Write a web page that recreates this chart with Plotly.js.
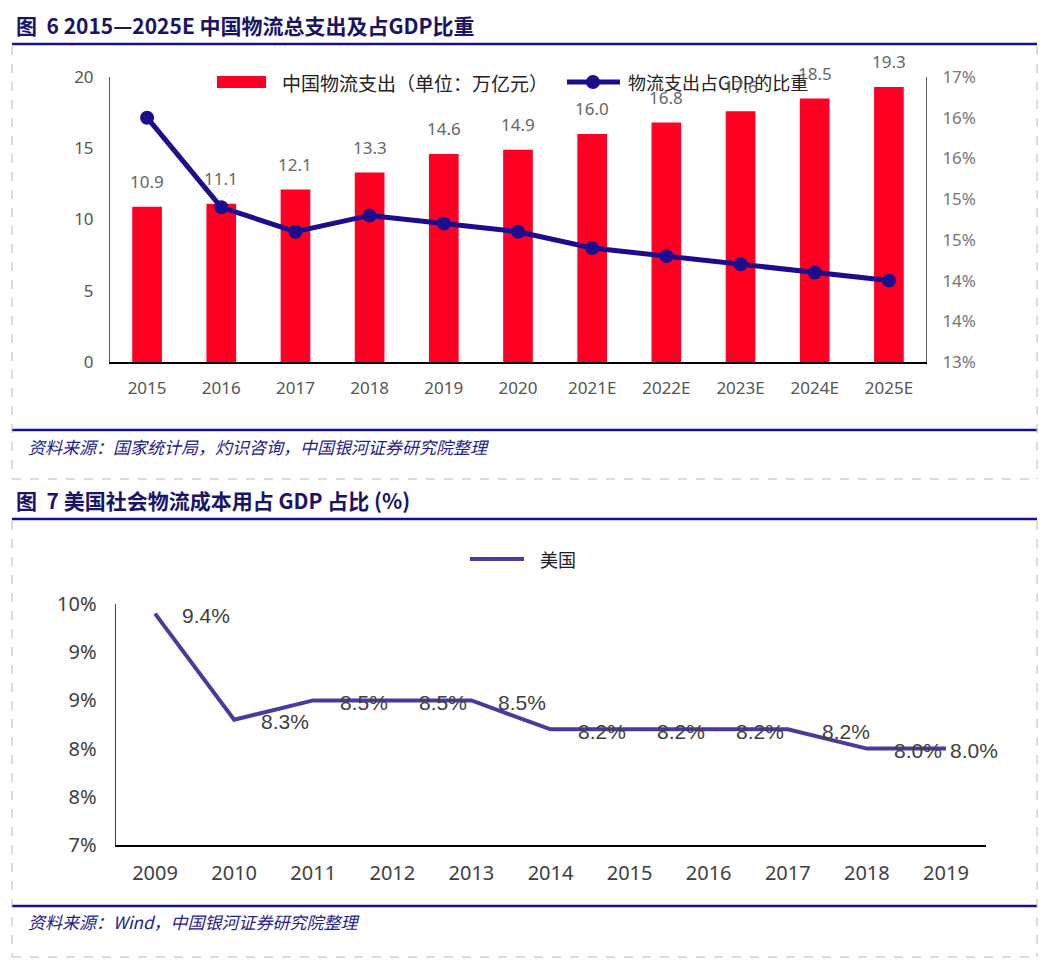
<!DOCTYPE html>
<html>
<head>
<meta charset="utf-8">
<script src="https://cdn.plot.ly/plotly-3.0.1.min.js"></script>
<style>html,body{margin:0;padding:0;background:#fff;}#chart{width:1054px;height:980px;}</style>
</head>
<body>
<div id="chart"></div>
<script>
// ---------- data ----------
const cnYears = ['2015','2016','2017','2018','2019','2020','2021E','2022E','2023E','2024E','2025E'];
const cnSpend = [10.9, 11.1, 12.1, 13.3, 14.6, 14.9, 16.0, 16.8, 17.6, 18.5, 19.3];   // 万亿元
const cnShare = [16.0, 14.9, 14.6, 14.8, 14.7, 14.6, 14.4, 14.3, 14.2, 14.1, 14.0];   // %
const cnLeftTicks = [0, 5, 10, 15, 20];
const cnRightTickVals = [13, 13.5, 14, 14.5, 15, 15.5, 16, 16.5];
const cnRightTickText = ['13%', '14%', '14%', '15%', '15%', '16%', '16%', '17%'];

const usYears = ['2009','2010','2011','2012','2013','2014','2015','2016','2017','2018','2019'];
const usShare = [9.4, 8.3, 8.5, 8.5, 8.5, 8.2, 8.2, 8.2, 8.2, 8.0, 8.0];   // %
const usTickVals = [7, 7.5, 8, 8.5, 9, 9.5];
const usTickText = ['7%', '8%', '8%', '9%', '9%', '10%'];

const title1 = '图  6 2015—2025E 中国物流总支出及占GDP比重';
const title2 = '图  7 美国社会物流成本用占 GDP 占比 (%)';
const source1 = '资料来源：国家统计局，灼识咨询，中国银河证券研究院整理';
const source2 = '资料来源：Wind，中国银河证券研究院整理';
const legendBar = '中国物流支出（单位：万亿元）';
const legendLine = '物流支出占GDP的比重';
const legendUS = '美国';

// ---------- helpers ----------
const W = 1054, H = 980;
const px = x => x / W;
const py = y => 1 - y / H;
const SANS = '"Noto Sans", "Noto Sans CJK SC", sans-serif';
const CJK = '"Noto Sans CJK SC", "Noto Sans", sans-serif';
const NAVY = '#17128a';
const TITLE_C = '#1a1466';
const RED = '#ff0024';
const LINE1 = '#1c0c8e';
const LINE2 = '#4a3aa0';

const traces = [
  {
    type: 'bar', x: cnYears, y: cnSpend, xaxis: 'x', yaxis: 'y',
    marker: {color: RED}, hoverinfo: 'skip', name: legendBar
  },
  {
    type: 'scatter', mode: 'lines+markers', x: cnYears, y: cnShare, xaxis: 'x', yaxis: 'y3',
    line: {color: LINE1, width: 5}, marker: {color: LINE1, size: 14}, hoverinfo: 'skip', name: legendLine
  },
  {
    type: 'scatter', mode: 'lines', x: usYears, y: usShare, xaxis: 'x2', yaxis: 'y2',
    line: {color: LINE2, width: 4}, hoverinfo: 'skip', name: legendUS
  }
];

const annotations = [];
// titles and sources
annotations.push({xref:'paper', yref:'paper', x:px(14), y:py(25), xanchor:'left', yanchor:'middle',
  text:'<b>'+title1+'</b>', showarrow:false, font:{family:CJK, size:21, color:TITLE_C}});
annotations.push({xref:'paper', yref:'paper', x:px(14), y:py(500), xanchor:'left', yanchor:'middle',
  text:'<b>'+title2+'</b>', showarrow:false, font:{family:CJK, size:21, color:TITLE_C}});
annotations.push({xref:'paper', yref:'paper', x:px(26), y:py(446), xanchor:'left', yanchor:'middle',
  text:'<i>'+source1+'</i>', showarrow:false, font:{family:CJK, size:17, color:'#24208c'}});
annotations.push({xref:'paper', yref:'paper', x:px(26), y:py(921), xanchor:'left', yanchor:'middle',
  text:'<i>'+source2+'</i>', showarrow:false, font:{family:CJK, size:17, color:'#24208c'}});
// legends (custom)
annotations.push({xref:'paper', yref:'paper', x:px(280), y:py(82), xanchor:'left', yanchor:'middle',
  text:legendBar, showarrow:false, font:{family:CJK, size:19, color:'#222'}});
annotations.push({xref:'paper', yref:'paper', x:px(626), y:py(82), xanchor:'left', yanchor:'middle',
  text:legendLine, showarrow:false, font:{family:CJK, size:18, color:'#222'}});
annotations.push({xref:'paper', yref:'paper', x:px(538), y:py(559), xanchor:'left', yanchor:'middle',
  text:legendUS, showarrow:false, font:{family:CJK, size:18, color:'#222'}});
// bar value labels
cnSpend.forEach((v, i) => {
  annotations.push({xref:'x', yref:'y', x:i, y:v, xanchor:'center', yanchor:'middle', yshift:25,
    text:v.toFixed(1), showarrow:false, font:{family:SANS, size:17, color:'#666'}});
});
// US point labels
usShare.forEach((v, i) => {
  const shift = (i === usShare.length - 1) ? 2 : (i === 8 ? 32 : 25);
  annotations.push({xref:'x2', yref:'y2', x:i, y:v, xanchor:'left', yanchor:'middle', xshift:shift, yshift:-2,
    text:v.toFixed(1)+'%', showarrow:false, font:{family:'"Liberation Sans", Arial, sans-serif', size:21, color:'#404040'}});
});

const dashed = {color:'#b8b8b8', width:1, dash:'dash'};
const shapes = [
  // chart 1 frame
  {type:'line', xref:'paper', yref:'paper', x0:px(12), x1:px(1037), y0:py(44), y1:py(44), line:{color:NAVY, width:2.5}},
  {type:'line', xref:'paper', yref:'paper', x0:px(12), x1:px(1037), y0:py(430), y1:py(430), line:{color:NAVY, width:2.5}},
  {type:'line', xref:'paper', yref:'paper', x0:px(12), x1:px(12), y0:py(46), y1:py(479), line:dashed},
  {type:'line', xref:'paper', yref:'paper', x0:px(1037), x1:px(1037), y0:py(46), y1:py(479), line:dashed},
  {type:'line', xref:'paper', yref:'paper', x0:px(12), x1:px(1037), y0:py(479), y1:py(479), line:dashed},
  // chart 2 frame
  {type:'line', xref:'paper', yref:'paper', x0:px(12), x1:px(1037), y0:py(519), y1:py(519), line:{color:NAVY, width:2.5}},
  {type:'line', xref:'paper', yref:'paper', x0:px(12), x1:px(1037), y0:py(906), y1:py(906), line:{color:NAVY, width:2.5}},
  {type:'line', xref:'paper', yref:'paper', x0:px(12), x1:px(12), y0:py(521), y1:py(957), line:dashed},
  {type:'line', xref:'paper', yref:'paper', x0:px(1037), x1:px(1037), y0:py(521), y1:py(957), line:dashed},
  {type:'line', xref:'paper', yref:'paper', x0:px(12), x1:px(1037), y0:py(957), y1:py(957), line:dashed},
  // legend symbols
  {type:'rect', xref:'paper', yref:'paper', x0:px(217), x1:px(266), y0:py(76), y1:py(88), fillcolor:RED, line:{width:0}},
  {type:'line', xref:'paper', yref:'paper', x0:px(567), x1:px(620), y0:py(82), y1:py(82), line:{color:LINE1, width:5}},
  {type:'circle', xref:'paper', yref:'paper', x0:px(586), x1:px(600), y0:py(75), y1:py(89), fillcolor:LINE1, line:{width:0}},
  {type:'line', xref:'paper', yref:'paper', x0:px(470), x1:px(524), y0:py(559), y1:py(559), line:{color:LINE2, width:4}}
];

const layout = {
  width: W, height: H,
  margin: {l:0, r:0, t:0, b:0, pad:0},
  paper_bgcolor: '#fff', plot_bgcolor: 'rgba(0,0,0,0)',
  showlegend: false,
  bargap: 0.6,
  font: {family: SANS, color: '#595959'},
  xaxis: {
    domain: [px(110), px(926)], anchor: 'y', type: 'category', range: [-0.5, 10.5],
    showline: true, linecolor: '#000', linewidth: 1.5, ticks: '', showgrid: false, zeroline: false,
    tickfont: {family: SANS, size: 17, color: '#555'}, ticklabelstandoff: 10, fixedrange: true
  },
  yaxis: {
    domain: [py(362), py(77)], anchor: 'x', range: [0, 20], tickvals: cnLeftTicks,
    showline: true, linecolor: '#606060', linewidth: 1, ticks: '', showgrid: false, zeroline: false,
    tickfont: {family: SANS, size: 17, color: '#555'}, ticklabelstandoff: 12, fixedrange: true
  },
  yaxis3: {
    overlaying: 'y', side: 'right', anchor: 'x', range: [13, 16.5],
    tickvals: cnRightTickVals, ticktext: cnRightTickText,
    showline: true, linecolor: '#606060', linewidth: 1, ticks: '', showgrid: false, zeroline: false,
    tickfont: {family: SANS, size: 17, color: '#777'}, ticklabelstandoff: 12, fixedrange: true
  },
  xaxis2: {
    domain: [px(115.5), px(985.5)], anchor: 'y2', type: 'category', range: [-0.5, 10.5],
    showline: true, linecolor: '#000', linewidth: 1.5, ticks: '', showgrid: false, zeroline: false,
    tickfont: {family: SANS, size: 20, color: '#404040'}, ticklabelstandoff: 9, fixedrange: true
  },
  yaxis2: {
    domain: [py(845), py(604)], anchor: 'x2', range: [7, 9.5],
    tickvals: usTickVals, ticktext: usTickText,
    showline: true, linecolor: '#404040', linewidth: 1, ticks: '', showgrid: false, zeroline: false,
    tickfont: {family: SANS, size: 20, color: '#404040'}, ticklabelstandoff: 14, fixedrange: true
  },
  annotations: annotations,
  shapes: shapes
};

Plotly.newPlot('chart', traces, layout, {staticPlot: true, displayModeBar: false});
</script>
</body>
</html>
